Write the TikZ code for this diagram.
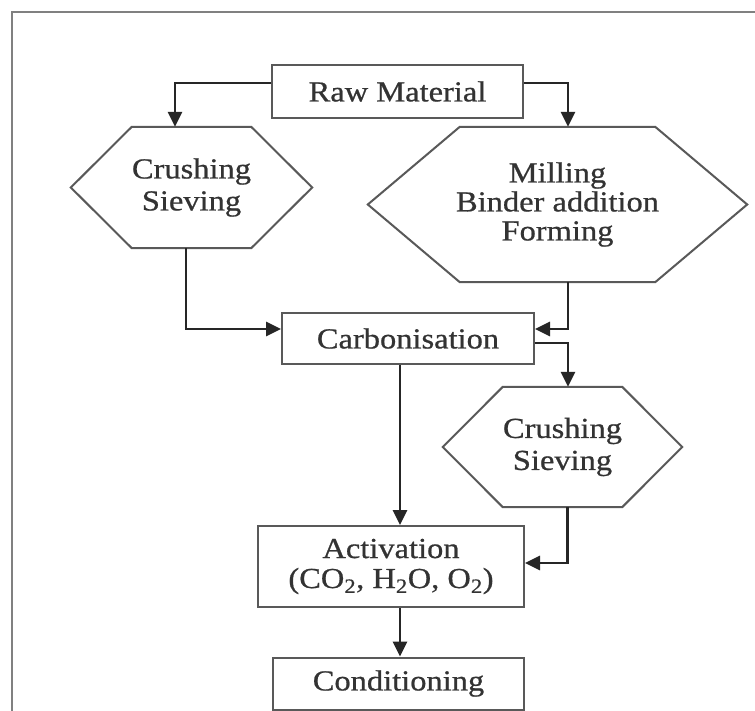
\documentclass[tikz,border=0pt]{standalone}
\usepackage{fontspec}
\setmainfont{Liberation Serif}[FakeStretch=1.12,FakeBold=0.7]
\usetikzlibrary{arrows.meta,calc}
\newcommand\hexoutline[2]{%
  \draw[boxline] (#1.west) -- ([xshift=#2]#1.north west) -- ([xshift=-#2]#1.north east)
    -- (#1.east) -- ([xshift=-#2]#1.south east) -- ([xshift=#2]#1.south west) -- cycle;}
\begin{document}
\begin{tikzpicture}[x=1pt,y=-1pt,
  boxline/.style={draw=black!65,line width=2pt},
  procbox/.style={boxline,rectangle,inner sep=0pt,align=center,text=black!80,
    font=\fontsize{29}{30}\selectfont},
  hexnode/.style={rectangle,inner sep=0pt,align=center,text=black!80,
    font=\fontsize{29}{32}\selectfont},
  flow/.style={draw=black!85,line width=2.7pt,-{Triangle[length=15pt,width=14pt]}},
  frameline/.style={draw=black!50,line width=2.6pt}]
\useasboundingbox (0,0) rectangle (755,711);
\fill[white] (0,0) rectangle (755,711);
\draw[frameline] (12,730) -- (12,12) -- (770,12);

\node[procbox,minimum width=251pt,minimum height=53pt] (raw) at (397.5,91.5) {Raw Material};
\node[hexnode,minimum width=241pt,minimum height=121pt] (h1) at (191.5,187.5) {Crushing\\Sieving};
\node[hexnode,minimum width=379pt,minimum height=155pt,font=\fontsize{29}{29}\selectfont] (h2) at (557.5,204.5) {Milling\\Binder addition\\Forming};
\node[procbox,minimum width=252pt,minimum height=51pt] (carb) at (408,338.5) {Carbonisation};
\node[hexnode,minimum width=239pt,minimum height=120pt] (h3) at (562.5,447) {Crushing\\Sieving};
\node[procbox,minimum width=266pt,minimum height=81pt] (act) at (391,566.5) {Activation\\(CO\textsubscript{2}, H\textsubscript{2}O, O\textsubscript{2})};
\node[procbox,minimum width=251pt,minimum height=52pt] (cond) at (398.5,683.5) {Conditioning};

\hexoutline{h1}{61pt}
\hexoutline{h2}{92pt}
\hexoutline{h3}{60pt}

\draw[flow] ([yshift=8.5pt]raw.west) -| ([xshift=-16.5pt]h1.north);
\draw[flow] ([yshift=8.5pt]raw.east) -| ([xshift=10.5pt]h2.north);
\draw[flow] ([xshift=-5.5pt]h1.south) |- ([yshift=9.5pt]carb.west);
\draw[flow] ([xshift=10.5pt]h2.south) |- ([yshift=9.5pt]carb.east);
\draw[flow] ([yshift=-4.5pt]carb.east) -| ([xshift=5.5pt]h3.north);
\draw[flow] ([xshift=-8pt]carb.south) -- ([xshift=-8pt]carb.south |- act.north);
\draw[flow] ([xshift=5pt]h3.south) |- ([yshift=3.5pt]act.east);
\draw[flow] ([xshift=9pt]act.south) -- ([xshift=9pt]act.south |- cond.north);
\end{tikzpicture}
\end{document}
